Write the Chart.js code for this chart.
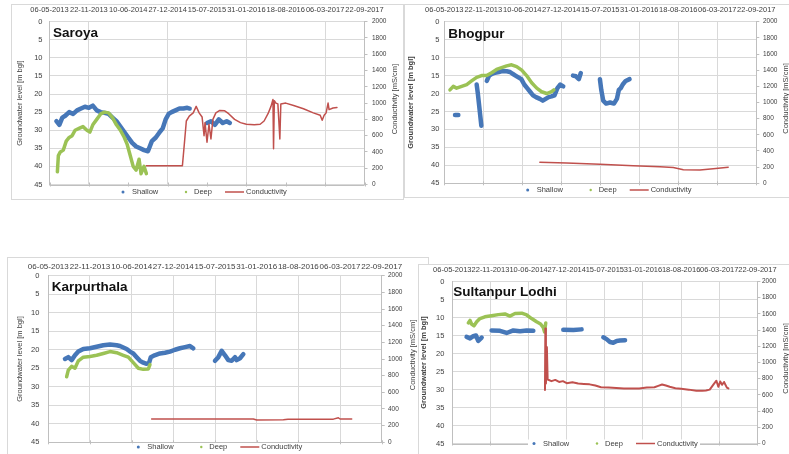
<!DOCTYPE html>
<html>
<head>
<meta charset="utf-8">
<script src="https://cdn.jsdelivr.net/npm/chart.js@4.4.0/dist/chart.umd.min.js"></script>
<style>
  html, body { margin: 0; padding: 0; background: #fff; }
  body { width: 789px; height: 454px; overflow: hidden; position: relative; }
  .panel { position: absolute; border: 1px solid #d9d9d9; background: #fff; }
  .panel > div { position: relative; }
</style>
</head>
<body>
<div class="panel" style="left:11px;top:4px;"><div style="width:391px;height:194px"><canvas id="saroya"></canvas></div></div>
<div class="panel" style="left:404px;top:4px;"><div style="width:388px;height:192px"><canvas id="bhogpur"></canvas></div></div>
<div class="panel" style="left:7px;top:257px;"><div style="width:420px;height:208px"><canvas id="karpurthala"></canvas></div></div>
<div class="panel" style="left:418px;top:264px;"><div style="width:374px;height:198px"><canvas id="sultanpur"></canvas></div></div>
<script>
// x values are days counted from 06-05-2013
const tickDays = [0, 200, 400, 600, 800, 1000, 1200, 1400, 1600];
const tickLabels = ['06-05-2013', '22-11-2013', '10-06-2014', '27-12-2014', '15-07-2015',
                    '31-01-2016', '18-08-2016', '06-03-2017', '22-09-2017'];

// Saroya: [day, level m bgl] / [day, mS/cm]
const saroyaShallow = [[35,27.5],[50,28.5],[65,26.5],[80,26],[100,25],[120,25.5],[140,24.5],[160,24],[180,23.5],
  [200,23.8],[220,23.2],[240,24.5],[260,25],[280,25.2],[300,25.5],[320,26.5],[340,27.5],[360,29],[380,30.5],
  [400,32],[420,33.5],[440,34.5],[460,35],[480,35.5],[500,35.8],[520,33],[540,32],[560,30.5],[575,29.5],
  [590,27],[605,25.5],[620,25],[640,24.5],[660,24],[680,24],[700,23.8],[712,24],[750,null],
  [800,28],[820,27.5],[840,28.5],[860,27],[880,28],[900,27.5],[916,28]];
const saroyaDeep = [[40,41.5],[45,37],[55,36],[70,35.5],[85,33],[100,32],[115,31.5],[130,30],[150,29.5],[170,29],
  [190,30],[205,30.5],[220,28.5],[240,27],[260,25.5],[280,25],[300,25.2],[320,26.5],[340,28.5],[360,30],
  [380,32],[395,34],[410,37],[425,40],[440,41],[455,38],[465,42],[480,40],[492,42]];
const saroyaCond = [[492,230],[675,230],[685,500],[695,780],[710,840],[730,880],[745,960],[760,880],[775,830],
  [785,600],[790,760],[800,520],[810,740],[820,560],[830,800],[845,880],[865,910],[890,905],[910,870],[940,800],
  [970,760],[1000,740],[1040,735],[1070,740],[1090,780],[1110,870],[1125,960],[1135,1045],[1138,440],[1142,1030],
  [1150,1000],[1160,990],[1170,560],[1175,990],[1200,1000],[1240,970],[1290,930],[1340,880],[1375,850],
  [1385,790],[1395,850],[1405,880],[1415,1000],[1420,920],[1440,940],[1460,945]];

// Bhogpur
const bhogpurShallow = [[55,26],[72,26],[120,null],[166,17.5],[172,20],[178,23],[184,26],[190,29],[205,null],
  [218,16.5],[230,15],[245,14.5],[260,14.2],[280,14],[300,13.7],[320,13.8],[337,14],[350,14.5],[365,15],[380,15.5],
  [395,16],[410,17.5],[425,18.5],[440,19.5],[455,20.5],[470,21],[490,21.5],[505,22],[520,21.5],[535,21],
  [550,20.8],[565,20.5],[580,18.5],[595,17.5],[610,18],[640,null],[660,15],[675,15.2],[690,16],[700,14.3],
  [750,null],[798,16],[805,19],[815,22],[830,22.8],[850,22.5],[870,22.8],[885,21.5],[895,19],[905,18.5],
  [915,17.5],[930,16.5],[950,16]];
const bhogpurDeep = [[29,19],[46,18],[63,18.5],[89,18],[115,17.5],[140,16.5],[166,15.5],[191,15],[217,15],
  [243,14.2],[268,13.3],[294,12.8],[320,12.3],[345,12],[371,12.5],[397,13.5],[422,15],[448,17],[474,18.5],
  [499,19.5],[525,20],[550,19.5],[562,19]];
const bhogpurCond = [[490,260],[627,250],[798,235],[969,218],[1106,206],[1174,195],[1226,168],[1311,165],
  [1379,180],[1456,200]];

// Karpurthala
const karpurthalaShallow = [[80,22.5],[96,22],[112,22.8],[128,21.5],[144,20.5],[168,19.8],[200,19.6],[232,19.2],
  [264,18.8],[296,18.6],[328,18.8],[344,19],[360,19.4],[376,19.8],[392,20.5],[408,21],[424,22],[440,23],
  [456,23.5],[472,23.8],[484,23.5],[492,22],[510,21.5],[536,21],[560,20.8],[584,20.5],[608,20],[632,19.6],
  [656,19.3],[680,19],[696,19.6],[750,null],[800,23],[816,22],[832,20.3],[848,21.5],[864,22.8],[880,23],
  [896,22],[904,22.8],[920,22.3],[936,21.2]];
const karpurthalaDeep = [[88,27.3],[96,25.5],[112,24.5],[128,25],[144,23],[168,22],[200,21.8],[232,21.5],
  [264,21],[296,20.5],[328,20.8],[360,21.5],[384,22],[408,23.5],[432,25],[456,25.3],[480,25.2],[488,24]];
const karpurthalaCond = [[496,280],[984,280],[1000,268],[1128,270],[1150,276],[1368,278],[1392,295],
  [1400,280],[1456,280]];

// Sultanpur Lodhi
const sultanpurShallow = [[75,15.4],[93,15.8],[110,15.2],[124,15],[136,16.5],[154,15.6],[180,null],
  [206,13.6],[250,13.7],[285,14.3],[320,13.6],[355,13.8],[390,13.6],[425,13.7],[500,null],
  [582,13.4],[635,13.5],[678,13.3],[740,null],[792,15.5],[809,16],[827,16.8],[844,17],[862,16.5],
  [879,16.4],[906,16.3]];
const sultanpurDeep = [[84,11.5],[93,10.8],[101,11.8],[114,12.3],[128,11.2],[145,10.3],[171,9.8],[206,9.5],
  [241,9.2],[276,9],[302,9.6],[329,8.9],[364,8.8],[390,9.3],[416,10.3],[442,11.2],[463,11.8],[477,12.8],
  [484,14],[490,11.5]];
const sultanpurCond = [[486,660],[488,1420],[491,740],[496,1190],[500,790],[520,770],[540,785],[560,760],
  [580,770],[600,745],[630,755],[660,740],[690,735],[720,730],[750,715],[780,695],[820,690],[860,685],
  [900,680],[940,680],[980,680],[1020,690],[1060,695],[1080,712],[1100,728],[1120,716],[1140,700],
  [1170,682],[1200,675],[1240,665],[1280,650],[1310,650],[1330,655],[1350,665],[1370,730],[1385,775],
  [1395,700],[1405,765],[1415,725],[1425,760],[1440,690],[1448,680]];

const BLUE = '#4677b8', GREEN = '#9bc255', RED = '#c0504d';
const TXT = '#404040', GRID = '#d9d9d9', AXIS = '#bfbfbf';
const FONT = '"Liberation Sans", Arial, sans-serif';
Chart.defaults.font.family = FONT;
Chart.defaults.color = TXT;

function vText(ctx, text, x, y, font) {
    ctx.save();
    ctx.translate(x, y);
    ctx.rotate(-Math.PI / 2);
    ctx.font = font;
    ctx.textAlign = 'center';
    ctx.textBaseline = 'middle';
    ctx.fillStyle = TXT;
    ctx.fillText(text, 0, 0);
    ctx.restore();
}

// station name, axis titles, bottom tick marks and the legend
const decor = {
    id: 'decor',
    afterDraw(chart, args, o) {
        const { ctx, chartArea: a } = chart;
        const xs = chart.scales.x;
        ctx.save();
        ctx.strokeStyle = AXIS;
        ctx.lineWidth = 1;
        ctx.beginPath();
        ctx.moveTo(a.left, Math.round(a.bottom) + 0.5);
        ctx.lineTo(a.right, Math.round(a.bottom) + 0.5);
        tickDays.forEach(d => {
            const x = Math.round(xs.getPixelForValue(d)) + 0.5;
            ctx.moveTo(x, a.bottom - 2);
            ctx.lineTo(x, a.bottom + 2);
        });
        ctx.stroke();

        ctx.fillStyle = '#111';
        ctx.font = 'bold 13.5px ' + FONT;
        ctx.textAlign = 'left';
        ctx.textBaseline = 'alphabetic';
        ctx.fillText(o.name, a.left + o.nameDx, a.top + o.nameDy);

        const mid = (a.top + a.bottom) / 2;
        vText(ctx, 'Groundwater level [m bgl]', o.leftTitleX, mid, (o.bold ? 'bold ' : '') + '7.5px ' + FONT);
        vText(ctx, 'Conductivity [mS/cm]', o.rightTitleX, mid - 4, '7.5px ' + FONT);

        const ds = chart.data.datasets;
        const lx = o.legendX, ly = o.legendY;
        ctx.fillStyle = '#fff';
        ctx.fillRect(lx - 6, ly - 4, 172, 8);
        ctx.font = '7.5px ' + FONT;
        ctx.textBaseline = 'middle';
        ctx.fillStyle = ds[0].borderColor;
        ctx.beginPath(); ctx.arc(lx, ly, 1.5, 0, Math.PI * 2); ctx.fill();
        ctx.fillStyle = TXT;
        ctx.fillText(ds[0].label, lx + 9, ly);
        ctx.fillStyle = ds[1].borderColor;
        ctx.beginPath(); ctx.arc(lx + 63, ly, 1.2, 0, Math.PI * 2); ctx.fill();
        ctx.fillStyle = TXT;
        ctx.fillText(ds[1].label, lx + 71, ly);
        ctx.strokeStyle = ds[2].borderColor;
        ctx.lineWidth = 1.5;
        ctx.beginPath(); ctx.moveTo(lx + 102, ly); ctx.lineTo(lx + 121, ly); ctx.stroke();
        ctx.fillText(ds[2].label, lx + 123, ly);
        ctx.restore();
    }
};

function makePanel(canvasId, shallow, deep, cond, L, D) {
    new Chart(document.getElementById(canvasId), {
        type: 'line',
        data: {
            datasets: [
                { label: 'Shallow', data: shallow, borderColor: BLUE, backgroundColor: BLUE, borderWidth: 4.5, order: 2 },
                { label: 'Deep', data: deep, borderColor: GREEN, backgroundColor: GREEN, borderWidth: 3.5, order: 1 },
                { label: 'Conductivity', data: cond, yAxisID: 'y1', borderColor: RED, backgroundColor: RED, borderWidth: L.condWidth, order: 0 }
            ]
        },
        options: {
            responsive: true,
            maintainAspectRatio: false,
            animation: false,
            layout: { padding: { left: 0, right: 0, top: 0, bottom: L.bottom } },
            elements: {
                point: { radius: 0, hoverRadius: 0 },
                line: { tension: 0, borderJoinStyle: 'round', borderCapStyle: 'round' }
            },
            plugins: { legend: { display: false }, tooltip: { enabled: false }, decor: D },
            scales: {
                x: {
                    type: 'linear', position: 'top', min: 0, max: 1600,
                    afterBuildTicks: s => { s.ticks = tickDays.map(v => ({ value: v })); },
                    afterFit: s => { s.height = L.top; },
                    ticks: {
                        autoSkip: false, maxRotation: 0, minRotation: 0, padding: L.xPad,
                        font: { size: L.xFont }, color: TXT,
                        callback: (v, i) => tickLabels[i]
                    },
                    grid: { drawTicks: false, color: c => (c.tick && L.grid.includes(c.tick.value)) ? GRID : 'rgba(0,0,0,0)' },
                    border: { display: true, color: GRID }
                },
                y: {
                    position: 'left', reverse: true, min: 0, max: 45,
                    afterFit: s => { s.width = L.left; },
                    ticks: { stepSize: 5, padding: L.yPad, font: { size: 7.5 }, color: TXT },
                    grid: { drawTicks: false, color: GRID },
                    border: { color: AXIS }
                },
                y1: {
                    position: 'right', min: 0, max: 2000,
                    afterFit: s => { s.width = L.right; },
                    ticks: { stepSize: 200, padding: L.y1Pad, font: { size: 6.5 }, color: TXT, callback: v => String(v) },
                    grid: { drawOnChartArea: false, tickLength: 3, color: AXIS },
                    border: { color: AXIS }
                }
            }
        },
        plugins: [decor]
    });
}

const everyTick = [200, 400, 600, 800, 1000, 1200, 1400];

makePanel('saroya', saroyaShallow, saroyaDeep, saroyaCond,
    { top: 16.7, left: 37.5, right: 38.5, bottom: 14.5, xPad: 7.7, xFont: 7.5, yPad: 7, y1Pad: 4.5, condWidth: 1.5, grid: [200, 600, 1000, 1400] },
    { name: 'Saroya', nameDx: 3.5, nameDy: 15.6, leftTitleX: 8, rightTitleX: 383, bold: false, legendX: 111, legendY: 187 });

makePanel('bhogpur', bhogpurShallow, bhogpurDeep, bhogpurCond,
    { top: 16.7, left: 39.3, right: 36.7, bottom: 13.7, xPad: 7.7, xFont: 7.5, yPad: 5, y1Pad: 3.7, condWidth: 1.5, grid: everyTick },
    { name: 'Bhogpur', nameDx: 4, nameDy: 16.6, leftTitleX: 6, rightTitleX: 381, bold: true, legendX: 122.7, legendY: 185 });

makePanel('karpurthala', karpurthalaShallow, karpurthalaDeep, karpurthalaCond,
    { top: 17.7, left: 40.3, right: 46.3, bottom: 23.7, xPad: 4.5, xFont: 8, yPad: 9, y1Pad: 3.3, condWidth: 1.5, grid: everyTick },
    { name: 'Karpurthala', nameDx: 3.4, nameDy: 15, leftTitleX: 12, rightTitleX: 405, bold: false, legendX: 130.3, legendY: 189 });

makePanel('sultanpur', sultanpurShallow, sultanpurDeep, sultanpurCond,
    { top: 16.5, left: 33.3, right: 35.6, bottom: 19.5, xPad: 7, xFont: 7.5, yPad: 8, y1Pad: 1.6, condWidth: 2, grid: everyTick },
    { name: 'Sultanpur Lodhi', nameDx: 1, nameDy: 14.5, leftTitleX: 5, rightTitleX: 367, bold: true, legendX: 115, legendY: 178.5 });
</script>
</body>
</html>
